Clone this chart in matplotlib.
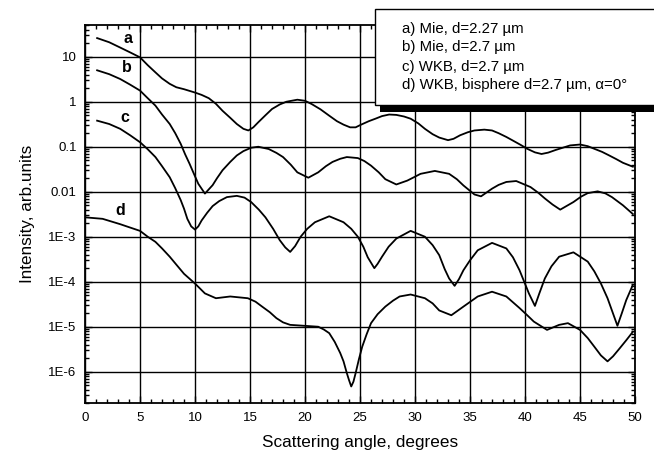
import matplotlib
matplotlib.use('Agg')
import matplotlib.pyplot as plt
import matplotlib.patches as patches
from matplotlib.ticker import FixedLocator, LogLocator, MultipleLocator, NullFormatter
import numpy as np

plt.rcParams['font.family'] = ['Liberation Sans', 'DejaVu Sans']

# curve a) Mie, d=2.27 um
a_x = [1.1, 2.2, 3.2, 4.1, 5.0, 5.7, 6.4, 7.0, 7.7, 8.3, 9.0, 10.0, 10.6, 11.25, 11.9, 12.5, 13.2, 13.8,
       14.4, 14.85, 15.3, 15.75, 16.4, 17.0, 17.7, 18.3, 19.3, 20.0, 20.6, 21.4, 22.2, 22.9, 23.5, 24.1,
       24.6, 25.1, 25.8, 26.4, 27.0, 27.65, 28.3, 29.0, 29.6, 30.3, 30.9, 31.6, 32.2, 33.0, 33.5, 34.1,
       34.8, 35.4, 36.3, 37.0, 37.6, 38.3, 38.9, 39.6, 40.2, 40.9, 41.5, 42.1, 42.8, 44.1, 45.0, 45.7,
       46.3, 47.0, 47.6, 48.3, 48.9, 49.8]
a_y = [26, 21, 16, 12.5, 9.7, 6.5, 4.5, 3.3, 2.5, 2.1, 1.9, 1.6, 1.42, 1.2, 0.9, 0.63, 0.44, 0.32,
       0.25, 0.23, 0.27, 0.35, 0.5, 0.69, 0.87, 1.0, 1.11, 1.05, 0.89, 0.68, 0.49, 0.37, 0.31, 0.27,
       0.27, 0.31, 0.37, 0.42, 0.48, 0.52, 0.51, 0.47, 0.42, 0.33, 0.25, 0.19, 0.16, 0.14, 0.15, 0.18,
       0.21, 0.23, 0.24, 0.23, 0.2, 0.165, 0.137, 0.11, 0.09, 0.075, 0.069, 0.074, 0.085, 0.107, 0.112,
       0.103, 0.09, 0.077, 0.065, 0.053, 0.044, 0.036]

# curve b) Mie, d=2.7 um
b_x = [1.1, 2.2, 3.2, 4.1, 5.0, 5.7, 6.4, 7.0, 7.7, 8.2, 8.7, 9.1, 9.5, 9.9, 10.3, 10.9, 11.6, 12.0,
       12.5, 13.2, 13.8, 14.4, 15.1, 15.75, 16.7, 17.4, 18.0, 18.7, 19.3, 20.3, 21.2, 21.9, 22.5, 23.2,
       23.8, 24.8, 25.4, 26.0, 26.7, 27.3, 28.3, 29.3, 29.9, 30.5, 31.8, 33.1, 33.8, 34.4, 35.4, 36.0,
       37.0, 37.6, 38.3, 39.2, 40.5, 41.2, 41.8, 42.5, 43.2, 44.4, 45.1, 45.7, 46.6, 47.3, 47.9, 48.9,
       49.8]
b_y = [5.0, 4.1, 3.2, 2.4, 1.77, 1.2, 0.82, 0.52, 0.32, 0.2, 0.116, 0.068, 0.042, 0.025, 0.015,
       0.0091, 0.014, 0.02, 0.03, 0.046, 0.064, 0.08, 0.095, 0.1, 0.089, 0.073, 0.059, 0.04, 0.027,
       0.0205, 0.027, 0.037, 0.046, 0.054, 0.059, 0.056, 0.048, 0.038, 0.027, 0.019, 0.0145, 0.0177,
       0.021, 0.025, 0.029, 0.025, 0.019, 0.0138, 0.0087, 0.0079, 0.0117, 0.0142, 0.0165, 0.0173,
       0.0127, 0.0095, 0.0071, 0.0052, 0.004, 0.0059, 0.0078, 0.0093, 0.0102, 0.0092, 0.0076, 0.005,
       0.0032]

# curve c) WKB, d=2.7 um
c_x = [1.1, 2.2, 3.2, 4.1, 5.0, 5.7, 6.4, 7.0, 7.7, 8.2, 8.7, 9.0, 9.3, 9.65, 10.0, 10.3, 10.6, 11.1,
       11.6, 12.2, 12.9, 13.8, 14.5, 15.1, 15.8, 16.4, 17.1, 17.7, 18.2, 18.65, 19.1, 19.6, 20.2, 20.9,
       22.2, 23.5, 24.2, 24.8, 25.3, 25.7, 26.3, 26.6, 27.0, 27.6, 28.3, 29.6, 30.9, 31.6, 32.2, 32.7,
       33.1, 33.6, 34.0, 34.4, 35.0, 35.7, 37.0, 38.3, 38.9, 39.5, 40.0, 40.35, 40.9, 41.3, 41.8, 42.4,
       43.1, 44.4, 45.7, 46.3, 46.9, 47.5, 47.9, 48.4, 48.8, 49.2, 49.8]
c_y = [0.38, 0.32, 0.25, 0.18, 0.126, 0.088, 0.059, 0.037, 0.021, 0.012, 0.0065, 0.0042, 0.0025,
       0.0017, 0.00144, 0.0017, 0.0023, 0.0034, 0.0048, 0.0062, 0.0076, 0.0081, 0.0074, 0.0059, 0.004,
       0.0027, 0.0015, 0.00084, 0.00058, 0.00046, 0.00062, 0.001, 0.0015, 0.0021, 0.00285, 0.0021,
       0.0015, 0.001, 0.0006, 0.00035, 0.0002, 0.00025, 0.00036, 0.0006, 0.00091, 0.00135, 0.001,
       0.00065, 0.00039, 0.00019, 0.000118, 8.1e-05, 0.000115, 0.00018, 0.0003, 0.0005, 0.00073,
       0.00055, 0.00035, 0.00018, 9e-05, 5.5e-05, 2.9e-05, 5.5e-05, 0.000118, 0.00022, 0.00036, 0.00045,
       0.00028, 0.00017, 9.1e-05, 4.3e-05, 2.3e-05, 1.05e-05, 2e-05, 3.9e-05, 8.5e-05]

# curve d) WKB, bisphere d=2.7 um, alpha=0
d_x = [0.0, 1.6, 3.2, 4.1, 5.0, 5.7, 6.4, 7.0, 7.7, 8.3, 9.0, 10.0, 10.9, 11.9, 13.2, 14.8, 15.5, 16.1,
       16.8, 17.4, 18.0, 18.65, 19.9, 21.2, 21.7, 22.2, 22.7, 23.2, 23.5, 23.8, 24.0, 24.2, 24.4, 24.6,
       24.9, 25.2, 25.6, 26.0, 26.6, 27.3, 28.0, 28.6, 29.6, 30.9, 31.6, 32.2, 33.3, 34.4, 35.7, 37.0,
       38.3, 39.5, 40.2, 40.8, 42.0, 43.1, 43.9, 45.0, 45.7, 46.3, 46.9, 47.5, 48.0, 48.6, 49.2, 49.8]
d_y = [0.0027, 0.0025, 0.0019, 0.0016, 0.00135, 0.001, 0.00077, 0.00055, 0.00036, 0.00024, 0.00015,
       9.1e-05, 5.5e-05, 4.3e-05, 4.7e-05, 4.3e-05, 3.6e-05, 2.8e-05, 2.1e-05, 1.55e-05, 1.25e-05, 1.1e-05,
       1.05e-05, 1e-05, 8.7e-06, 7.2e-06, 4.6e-06, 2.6e-06, 1.7e-06, 9.3e-07, 6.5e-07, 4.7e-07, 6e-07,
       9.3e-07, 1.9e-06, 3.6e-06, 6.8e-06, 1.2e-05, 1.9e-05, 2.8e-05, 3.8e-05, 4.7e-05, 5.2e-05, 4.3e-05,
       3.3e-05, 2.3e-05, 1.8e-05, 2.8e-05, 4.7e-05, 6e-05, 4.7e-05, 2.6e-05, 1.8e-05, 1.3e-05, 8.5e-06,
       1.1e-05, 1.2e-05, 8.5e-06, 5.6e-06, 3.6e-06, 2.3e-06, 1.7e-06, 2.2e-06, 3.3e-06, 5e-06, 7.7e-06]

curve_labels = ['a', 'b', 'c', 'd']
label_x = [3.9, 3.8, 3.6, 3.2]
label_y = [25, 5.7, 0.44, 0.0038]

legend_lines = ['a) Mie, d=2.27 \u00b5m',
                'b) Mie, d=2.7 \u00b5m',
                'c) WKB, d=2.7 \u00b5m',
                'd) WKB, bisphere d=2.7 \u00b5m, \u03b1=0\u00b0']

y_tick_vals = [1e-6, 1e-5, 1e-4, 1e-3, 0.01, 0.1, 1, 10]
y_tick_text = ['1E-6', '1E-5', '1E-4', '1E-3', '0.01', '0.1', '1', '10']

fig = plt.figure(figsize=(6.54, 4.53), dpi=100)
ax = fig.add_axes([0.130, 0.110, 0.841, 0.835])

for xs, ys in [(a_x, a_y), (b_x, b_y), (c_x, c_y), (d_x, d_y)]:
    ax.plot(xs, ys, color='black', linewidth=1.3, zorder=3, solid_joinstyle='round')

for lab, lx, ly in zip(curve_labels, label_x, label_y):
    ax.text(lx, ly, lab, fontsize=11.5, fontweight='bold', ha='center', va='center', zorder=4)

ax.set_yscale('log')
ax.set_xlim(0, 50)
ax.set_ylim(2e-7, 51)

ax.xaxis.set_major_locator(MultipleLocator(5))
ax.xaxis.set_minor_locator(MultipleLocator(1))
ax.yaxis.set_major_locator(FixedLocator(y_tick_vals))
ax.set_yticklabels(y_tick_text)
ax.yaxis.set_minor_locator(LogLocator(base=10, subs=np.arange(2, 10), numticks=20))
ax.yaxis.set_minor_formatter(NullFormatter())

ax.tick_params(which='both', direction='in', top=True, right=True, labelsize=9.5, pad=6)
ax.tick_params(which='major', length=5, width=1)
ax.tick_params(which='minor', length=3, width=1)
ax.grid(True, which='major', color='black', linewidth=1.0, zorder=1)
for sp in ax.spines.values():
    sp.set_linewidth(1.3)

ax.set_xlabel('Scattering angle, degrees', fontsize=12.3, labelpad=8)
ax.set_ylabel('Intensity, arb.units', fontsize=12.3, labelpad=10)

# legend box with a black shadow, running off the right edge
shadow = patches.Rectangle((380 / 654, 1 - 112 / 453), 300 / 654, 96 / 453,
                           transform=fig.transFigure, facecolor='black', edgecolor='none', zorder=5)
box = patches.Rectangle((375 / 654, 1 - 105 / 453), 300 / 654, 96 / 453,
                        transform=fig.transFigure, facecolor='white', edgecolor='black',
                        linewidth=1.0, zorder=6)
fig.patches.extend([shadow, box])
for i, line in enumerate(legend_lines):
    fig.text(402 / 654, 1 - (28.5 + i * 19) / 453, line, fontsize=10.8, ha='left', va='center', zorder=7)

fig.savefig('out.png', dpi=100, facecolor='white')
